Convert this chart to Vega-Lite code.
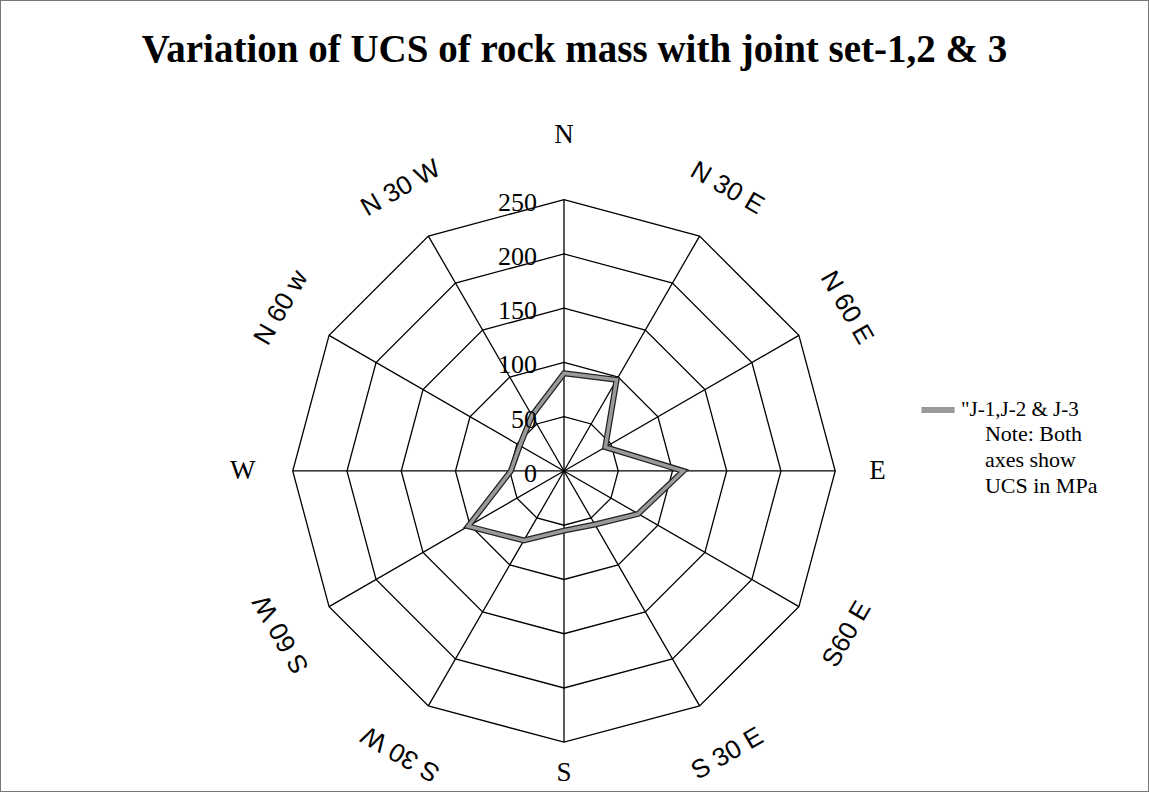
{
  "$schema": "https://vega.github.io/schema/vega-lite/v6.json",
  "width": 1149,
  "height": 792,
  "autosize": {"type": "fit", "contains": "padding"},
  "padding": 0,
  "background": "white",
  "config": {"view": {"stroke": "#777", "strokeWidth": 2}},
  "title": {
    "text": "Variation of UCS of rock mass with joint set-1,2 & 3",
    "font": "Liberation Serif",
    "fontSize": 39,
    "fontWeight": "bold",
    "color": "black",
    "anchor": "middle",
    "frame": "group",
    "offset": -70
  },
  "datasets": {
    "ucs": [
      {"direction": "N", "bearing": 0, "ucs": 90},
      {"direction": "N 30 E", "bearing": 30, "ucs": 97},
      {"direction": "N 60 E", "bearing": 60, "ucs": 44},
      {"direction": "E", "bearing": 90, "ucs": 110},
      {"direction": "S60 E", "bearing": 120, "ucs": 79},
      {"direction": "S 30 E", "bearing": 150, "ucs": 57},
      {"direction": "S", "bearing": 180, "ucs": 55},
      {"direction": "S 30 W", "bearing": 210, "ucs": 74},
      {"direction": "S 60 W", "bearing": 240, "ucs": 102},
      {"direction": "W", "bearing": 270, "ucs": 49},
      {"direction": "N 60 w", "bearing": 300, "ucs": 47},
      {"direction": "N 30 W", "bearing": 330, "ucs": 59}
    ],
    "grid": [
      {"bearing": 0, "levels": [50, 100, 150, 200, 250]},
      {"bearing": 30, "levels": [50, 100, 150, 200, 250]},
      {"bearing": 60, "levels": [50, 100, 150, 200, 250]},
      {"bearing": 90, "levels": [50, 100, 150, 200, 250]},
      {"bearing": 120, "levels": [50, 100, 150, 200, 250]},
      {"bearing": 150, "levels": [50, 100, 150, 200, 250]},
      {"bearing": 180, "levels": [50, 100, 150, 200, 250]},
      {"bearing": 210, "levels": [50, 100, 150, 200, 250]},
      {"bearing": 240, "levels": [50, 100, 150, 200, 250]},
      {"bearing": 270, "levels": [50, 100, 150, 200, 250]},
      {"bearing": 300, "levels": [50, 100, 150, 200, 250]},
      {"bearing": 330, "levels": [50, 100, 150, 200, 250]}
    ],
    "ticks": [
      {"level": 0}, {"level": 50}, {"level": 100}, {"level": 150}, {"level": 200}, {"level": 250}
    ],
    "note": [
      {"text": "Note: Both\naxes show\nUCS in MPa"}
    ]
  },
  "layer": [
    {
      "data": {"name": "grid"},
      "transform": [
        {"flatten": ["levels"], "as": ["level"]},
        {"calculate": "datum.level*sin(datum.bearing*PI/180)", "as": "gx"},
        {"calculate": "datum.level*cos(datum.bearing*PI/180)", "as": "gy"}
      ],
      "mark": {"type": "line", "interpolate": "linear-closed", "stroke": "black", "strokeWidth": 1.3},
      "encoding": {
        "x": {"field": "gx", "type": "quantitative", "scale": {"domain": [-519.8, 539.2], "nice": false, "zero": false}, "axis": null},
        "y": {"field": "gy", "type": "quantitative", "scale": {"domain": [-295.9, 434.1], "nice": false, "zero": false}, "axis": null},
        "detail": {"field": "level", "type": "nominal"},
        "order": {"field": "bearing", "type": "quantitative"}
      }
    },
    {
      "data": {"name": "ucs"},
      "transform": [
        {"calculate": "250*sin(datum.bearing*PI/180)", "as": "gx"},
        {"calculate": "250*cos(datum.bearing*PI/180)", "as": "gy"}
      ],
      "mark": {"type": "rule", "stroke": "black", "strokeWidth": 1.3},
      "encoding": {
        "x": {"field": "gx", "type": "quantitative"},
        "y": {"field": "gy", "type": "quantitative"},
        "x2": {"datum": 0},
        "y2": {"datum": 0}
      }
    },
    {
      "data": {"name": "ucs"},
      "transform": [
        {"calculate": "datum.ucs*sin(datum.bearing*PI/180)", "as": "gx"},
        {"calculate": "datum.ucs*cos(datum.bearing*PI/180)", "as": "gy"}
      ],
      "mark": {"type": "line", "interpolate": "linear-closed", "stroke": "#222", "strokeWidth": 6, "strokeJoin": "miter"},
      "encoding": {
        "x": {"field": "gx", "type": "quantitative"},
        "y": {"field": "gy", "type": "quantitative"},
        "order": {"field": "bearing", "type": "quantitative"}
      }
    },
    {
      "data": {"name": "ucs"},
      "transform": [
        {"calculate": "datum.ucs*sin(datum.bearing*PI/180)", "as": "gx"},
        {"calculate": "datum.ucs*cos(datum.bearing*PI/180)", "as": "gy"}
      ],
      "mark": {"type": "line", "interpolate": "linear-closed", "strokeWidth": 3.5, "strokeJoin": "miter"},
      "encoding": {
        "x": {"field": "gx", "type": "quantitative"},
        "y": {"field": "gy", "type": "quantitative"},
        "order": {"field": "bearing", "type": "quantitative"},
        "stroke": {
          "datum": "\"J-1,J-2 & J-3",
          "type": "nominal",
          "scale": {"range": ["#9a9a9a"]},
          "legend": {
            "orient": "none",
            "legendX": 918,
            "legendY": 390,
            "title": null,
            "symbolType": "stroke",
            "symbolSize": 1100,
            "symbolStrokeWidth": 6,
            "labelFont": "Liberation Serif",
            "labelFontSize": 21,
            "labelColor": "black",
            "labelOffset": 3
          }
        }
      }
    },
    {
      "data": {"name": "ticks"},
      "mark": {"type": "text", "align": "right", "baseline": "middle", "dx": -27, "dy": 3, "font": "Liberation Serif", "fontSize": 26, "color": "black"},
      "encoding": {
        "x": {"datum": 0},
        "y": {"field": "level", "type": "quantitative"},
        "text": {"field": "level", "type": "quantitative"}
      }
    },
    {
      "data": {"name": "ucs"},
      "transform": [
        {"filter": "datum.bearing % 90 == 0"},
        {"calculate": "datum.bearing==0 ? 310 : datum.bearing==180 ? 278 : datum.bearing==90 ? 289 : 296", "as": "R"},
        {"calculate": "datum.R*sin(datum.bearing*PI/180)", "as": "lx"},
        {"calculate": "datum.R*cos(datum.bearing*PI/180)", "as": "ly"}
      ],
      "mark": {"type": "text", "align": "center", "baseline": "middle", "font": "Liberation Serif", "fontSize": 27, "color": "black"},
      "encoding": {
        "x": {"field": "lx", "type": "quantitative"},
        "y": {"field": "ly", "type": "quantitative"},
        "text": {"field": "direction", "type": "nominal"}
      }
    },
    {
      "data": {"name": "ucs"},
      "transform": [
        {"filter": "datum.bearing % 90 != 0"},
        {"calculate": "301*sin(datum.bearing*PI/180)", "as": "lx"},
        {"calculate": "301*cos(datum.bearing*PI/180)", "as": "ly"},
        {"calculate": "datum.bearing > 90 && datum.bearing < 180 ? datum.bearing - 180 : datum.bearing", "as": "rot"}
      ],
      "mark": {"type": "text", "align": "center", "baseline": "middle", "font": "Liberation Sans", "fontSize": 26, "color": "black"},
      "encoding": {
        "x": {"field": "lx", "type": "quantitative"},
        "y": {"field": "ly", "type": "quantitative"},
        "text": {"field": "direction", "type": "nominal"},
        "angle": {"field": "rot", "type": "quantitative", "scale": null}
      }
    },
    {
      "data": {"name": "note"},
      "mark": {"type": "text", "align": "left", "baseline": "top", "font": "Liberation Serif", "fontSize": 22, "lineHeight": 26, "lineBreak": "\n", "color": "black"},
      "encoding": {
        "x": {"datum": 388},
        "y": {"datum": 43},
        "text": {"field": "text", "type": "nominal"}
      }
    }
  ]
}
